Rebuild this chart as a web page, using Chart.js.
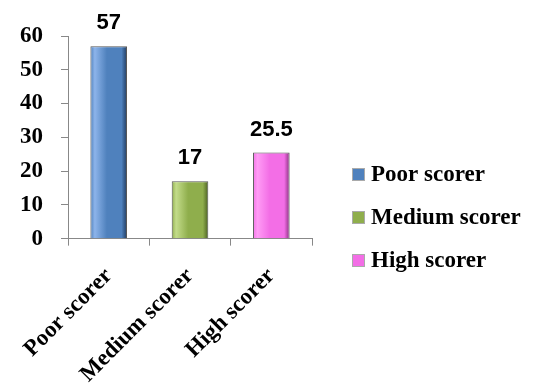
<!DOCTYPE html>
<html>
<head>
<meta charset="utf-8">
<script src="https://cdn.jsdelivr.net/npm/chart.js@4/dist/chart.umd.min.js"></script>
<style>
  body { margin: 0; background: #fff; }
  #wrap { width: 535px; height: 387px; }
</style>
</head>
<body>
<div id="wrap"><canvas id="scoreChart" width="535" height="387"></canvas></div>
<script>
const categories = ["Poor scorer", "Medium scorer", "High scorer"];
const scores = [57, 17, 25.5];
const yTicks = [0, 10, 20, 30, 40, 50, 60];

// light / mid / dark for each bar's bevel look
const barColors = [
    { light: "#8db4ea", mid: "#4f81bd", dark: "#1f3a5f" },
    { light: "#c3dc8a", mid: "#8fae4c", dark: "#4a5f22" },
    { light: "#ff9cf5", mid: "#f36ee6", dark: "#8a2f80" }
];

const serif = "'Liberation Serif', 'Times New Roman', serif";
const BAR_PCT = 0.45;

function barFill(ctx) {
    const chart = ctx.chart;
    const c = barColors[ctx.dataIndex] || barColors[0];
    const xScale = chart.scales.x;
    if (!chart.chartArea || !xScale || ctx.type !== "data") return c.mid;
    const cx = xScale.getPixelForValue(ctx.dataIndex);
    const w = (xScale.width / categories.length) * BAR_PCT;
    const g = chart.ctx.createLinearGradient(cx - w / 2, 0, cx + w / 2, 0);
    g.addColorStop(0, c.mid);
    g.addColorStop(0.12, c.light);
    g.addColorStop(0.45, c.mid);
    g.addColorStop(0.85, c.mid);
    g.addColorStop(1, c.dark);
    return g;
}

// value labels above bars
const valueLabels = {
    id: "valueLabels",
    afterDatasetsDraw(chart) {
        const { ctx } = chart;
        const meta = chart.getDatasetMeta(0);
        ctx.save();
        ctx.font = "bold 22px 'Liberation Sans', Arial, sans-serif";
        ctx.fillStyle = "#000";
        ctx.textAlign = "center";
        ctx.textBaseline = "bottom";
        meta.data.forEach((bar, i) => {
            ctx.fillText(String(scores[i]), bar.x, bar.y - 12);
        });
        ctx.restore();
    }
};

// legend on the right, drawn by hand so the wide text is not squeezed
const sideLegend = {
    id: "sideLegend",
    afterDraw(chart) {
        const { ctx, chartArea } = chart;
        const x = chartArea.right + 40;
        let y = chartArea.top + 138;
        ctx.save();
        ctx.font = "bold 23px " + serif;
        ctx.textBaseline = "middle";
        ctx.textAlign = "left";
        categories.forEach((name, i) => {
            ctx.fillStyle = barColors[i].mid;
            ctx.fillRect(x, y - 6, 13, 13);
            ctx.strokeStyle = "#aaa";
            ctx.lineWidth = 1;
            ctx.strokeRect(x + 0.5, y - 5.5, 12, 12);
            ctx.fillStyle = "#000";
            ctx.fillText(name, x + 19, y + 1);
            y += 43;
        });
        ctx.restore();
    }
};

new Chart(document.getElementById("scoreChart"), {
    type: "bar",
    data: {
        labels: categories,
        datasets: [{
            data: scores,
            backgroundColor: barFill,
            borderColor: "#555",
            borderWidth: 1,
            barPercentage: BAR_PCT,
            categoryPercentage: 1
        }]
    },
    options: {
        responsive: false,
        animation: false,
        layout: { padding: { top: 36, left: 1, right: 223, bottom: -18 } },
        plugins: {
            tooltip: { enabled: false },
            legend: { display: false }
        },
        scales: {
            x: {
                grid: { display: true, drawOnChartArea: false, drawTicks: true, tickLength: 7, color: "#888" },
                border: { color: "#888" },
                ticks: {
                    minRotation: 45,
                    maxRotation: 45,
                    padding: 17,
                    color: "#000",
                    font: { family: serif, size: 23, weight: "bold" }
                }
            },
            y: {
                min: 0,
                max: 60,
                afterBuildTicks(axis) { axis.ticks = yTicks.map(v => ({ value: v })); },
                grid: { display: true, drawOnChartArea: false, drawTicks: true, tickLength: 7, color: "#888" },
                border: { color: "#888" },
                ticks: {
                    padding: 18,
                    color: "#000",
                    font: { family: serif, size: 23, weight: "bold" }
                }
            }
        }
    },
    plugins: [valueLabels, sideLegend]
});
</script>
</body>
</html>
